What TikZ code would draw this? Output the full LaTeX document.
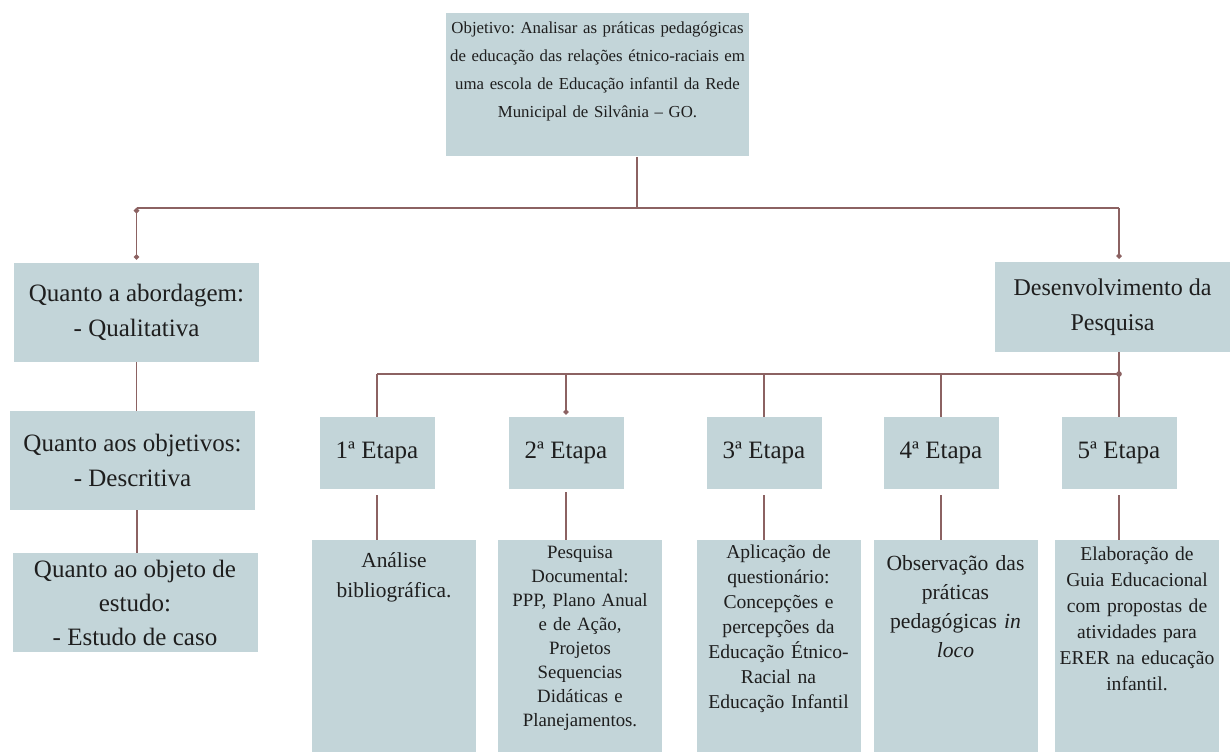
\documentclass[tikz,border=0pt]{standalone}
\usepackage{fontspec}
\setmainfont{Liberation Serif}
\usetikzlibrary{arrows.meta}
\frenchspacing

\definecolor{boxfill}{RGB}{195,213,217}
\definecolor{linkbrown}{RGB}{140,98,98}
\definecolor{inkgray}{RGB}{30,30,30}

\tikzset{
  box/.style={rectangle, fill=boxfill, text=inkgray, inner sep=0pt, align=center},
  bigbox/.style={box, minimum width=122.5pt, minimum height=49.5pt, font=\fontsize{12.5}{17.5}\selectfont},
  stagebox/.style={box, minimum width=57.5pt, minimum height=36pt, font=\fontsize{12.5}{15}\selectfont},
  detailbox/.style 2 args={box, anchor=north, text width=82pt, text height=#1, text depth=#2},
  link/.style={draw=linkbrown, line width=0.9pt},
  dotend/.style={-{Circle[length=2.6pt]}},
  dotboth/.style={{Circle[length=2.6pt]}-{Circle[length=2.6pt]}}
}

\begin{document}
\begin{tikzpicture}[x=0.5pt, y=-0.5pt]
  \useasboundingbox (0,0) rectangle (1230,752);

  % objective on top
  \node[box, anchor=north, text width=151.5pt, text height=10pt, text depth=61.5pt,
        font=\fontsize{8.4}{14}\selectfont] (goal) at (597.5,13)
    {Objetivo: Analisar as práticas pedagógicas\\
     de educação das relações étnico-raciais em\\
     uma escola de Educação infantil da Rede\\
     Municipal de Silvânia – GO.};

  % left column
  \node[bigbox] (approach) at (136.5,312.5) {Quanto a abordagem:\\- Qualitativa};
  \node[bigbox] (aims) at (132.5,460.5) {Quanto aos objetivos:\\- Descritiva};
  \node[bigbox, font=\fontsize{12.5}{17}\selectfont] (object) at (135,602.5) {Quanto ao objeto de\\estudo:\\- Estudo de caso};

  % right branch
  \node[bigbox, minimum width=117.5pt, minimum height=45pt, font=\fontsize{12}{17.5}\selectfont] (dev) at (1112.5,307) {Desenvolvimento da\\Pesquisa};

  % stages
  \node[stagebox] (s1) at (377,453) {1ª Etapa};
  \node[stagebox] (s2) at (566,453) {2ª Etapa};
  \node[stagebox] (s3) at (764,453) {3ª Etapa};
  \node[stagebox] (s4) at (941,453) {4ª Etapa};
  \node[stagebox] (s5) at (1119,453) {5ª Etapa};

  % what each stage does
  \node[detailbox={13.5pt}{92.5pt}, font=\fontsize{10.7}{15}\selectfont] (d1) at (394,540)
    {Análise\\bibliográfica.};
  \node[detailbox={9pt}{97pt}, font=\fontsize{9.4}{12}\selectfont] (d2) at (580,540)
    {Pesquisa\\Documental:\\PPP, Plano Anual\\e de Ação,\\Projetos\\Sequencias\\Didáticas e\\Planejamentos.};
  \node[detailbox={9pt}{97pt}, font=\fontsize{9.8}{12.5}\selectfont] (d3) at (778.5,540)
    {Aplicação de\\questionário:\\Concepções e\\percepções da\\Educação Étnico-\\Racial na\\Educação Infantil};
  \node[detailbox={15pt}{91pt}, font=\fontsize{10.8}{14.5}\selectfont] (d4) at (955.5,540)
    {Observação das\\práticas\\pedagógicas \textit{in}\\\textit{loco}};
  \node[detailbox={10pt}{96pt}, font=\fontsize{9.8}{13}\selectfont] (d5) at (1137,540)
    {Elaboração de\\Guia Educacional\\com propostas de\\atividades para\\ERER na educação\\infantil.};

  \coordinate (topbus) at (0,208);
  \coordinate (stagebus) at (0,374);

  % top level lines
  \draw[link] ([xshift=19.75pt]goal.south) -- ([xshift=19.75pt]goal.south |- topbus);
  \draw[link] (approach.north |- topbus) -- (s5.north |- topbus);
  \draw[link, dotboth] (approach.north |- topbus) -- ([yshift=1.5pt]approach.north);
  \draw[link, dotend] (s5.north |- topbus) -- ([yshift=1.5pt]s5.north |- dev.north);

  % left chain
  \draw[link] (approach.south) -- (approach.south |- aims.north);
  \draw[link] ([xshift=2.25pt]aims.south) -- ([xshift=2.25pt]aims.south |- object.north);

  % stage bus
  \draw[link] (s1.north |- stagebus) -- (s5.north |- stagebus);
  \draw[link] (s5.north |- dev.south) -- (s5.north);
  \fill[linkbrown] (s5.north |- stagebus) circle (1.4pt);
  \draw[link] (s1.north |- stagebus) -- (s1.north);
  \draw[link, dotend] (s2.north |- stagebus) -- ([yshift=1pt]s2.north);
  \draw[link] (s3.north |- stagebus) -- (s3.north);
  \draw[link] (s4.north |- stagebus) -- (s4.north);

  % stage to detail
  \draw[link, shorten <=3pt] (s1.south) -- (s1.south |- d1.north);
  \draw[link, shorten <=1.5pt] (s2.south) -- (s2.south |- d2.north);
  \draw[link, shorten <=3pt] (s3.south) -- (s3.south |- d3.north);
  \draw[link, shorten <=3pt] (s4.south) -- (s4.south |- d4.north);
  \draw[link, shorten <=3pt] (s5.south) -- (s5.south |- d5.north);
\end{tikzpicture}
\end{document}
